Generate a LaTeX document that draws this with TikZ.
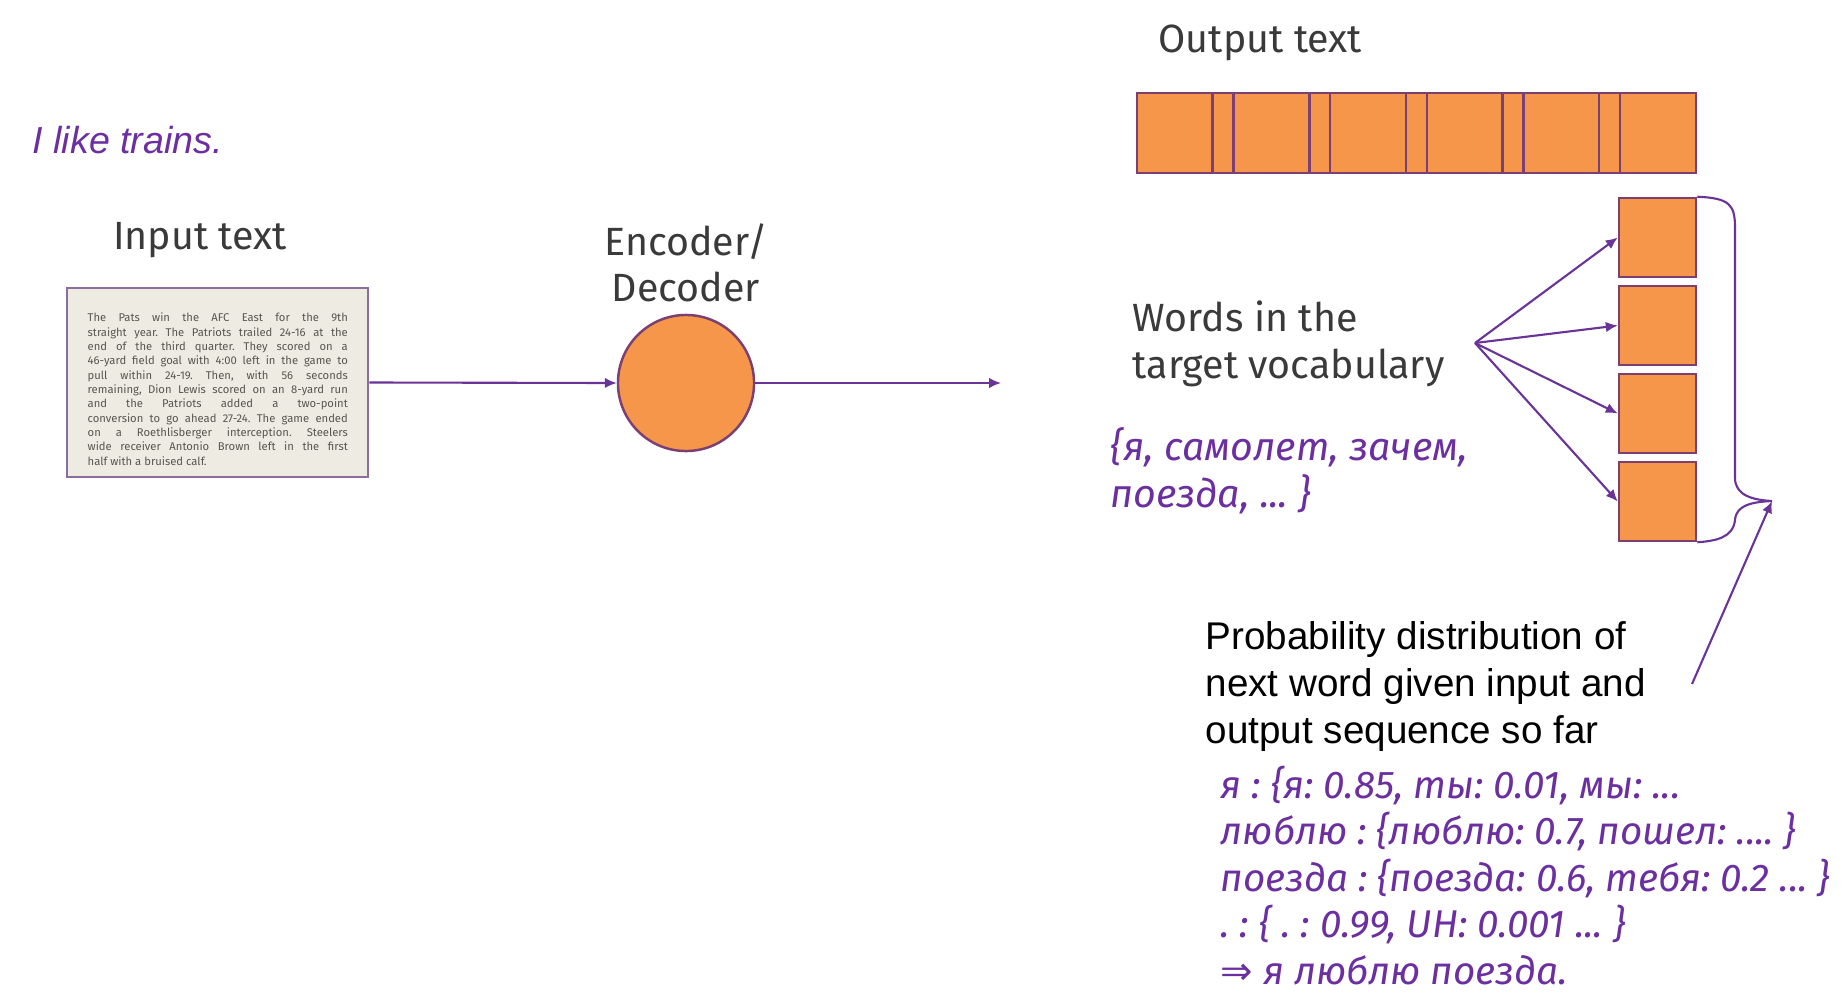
\documentclass[tikz,border=0pt]{standalone}
\usepackage{fontspec}
\setmainfont{Fira Sans}
\newfontfamily\arialfont{Liberation Sans}
\newfontfamily\symfont{DejaVu Sans}
\usetikzlibrary{arrows.meta}
\definecolor{boxorange}{HTML}{F6964A}
\definecolor{boxline}{HTML}{7B3F72}
\definecolor{arrowpurple}{HTML}{6A3497}
\definecolor{textpurple}{HTML}{6B2FA0}
\definecolor{labelgray}{HTML}{3A3A3A}
\definecolor{paper}{HTML}{EEEBE3}
\definecolor{paperline}{HTML}{8C6D9F}
\definecolor{papertext}{HTML}{5A5550}
\frenchspacing
% one justified line of the input article
\newcommand{\jline}[1]{\makebox[2.6cm][s]{#1}\\}
\begin{document}
\begin{tikzpicture}[x=0.01cm, y=-0.01cm,
  label/.style={inner sep=0, text=labelgray, font=\fontsize{11.2pt}{13.1pt}\selectfont},
  ru/.style={inner sep=0, text=textpurple, font=\fontsize{11.2pt}{13.2pt}\selectfont\itshape},
  cell/.style={draw=boxline, line width=0.7pt, fill=boxorange, inner sep=0, minimum height=0.8cm},
  vocbox/.style={cell, minimum width=0.77cm, minimum height=0.79cm},
  flow/.style={arrowpurple, line width=0.6pt, -{Latex[length=3.4pt,width=3pt]}}]
  \fill[white] (0,0) rectangle (1846,1000);
  \useasboundingbox (0,0) rectangle (1846,1000);
  % source sentence
  \node[inner sep=0, anchor=base west, text=textpurple, font=\arialfont\fontsize{10.7pt}{12pt}\selectfont\itshape] (src) at (32,153) {I like trains.};
  % input (multi-line nodes sit on their last baseline)
  \node[label, anchor=base] (inlabel) at (200,249) {Input text};
  \node[draw=paperline, line width=0.7pt, fill=paper, minimum width=3.01cm, minimum height=1.89cm] (inbox) at (217.5,382.5) {};
  \node[inner sep=0, anchor=base west, align=left, text=papertext, font=\fontsize{3.2pt}{4.07pt}\selectfont] (intext) at (87,465) {%
    \jline{The Pats win the AFC East for the 9th}
    \jline{straight year. The Patriots trailed 24-16 at the}
    \jline{end of the third quarter. They scored on a}
    \jline{46-yard field goal with 4:00 left in the game to}
    \jline{pull within 24-19. Then, with 56 seconds}
    \jline{remaining, Dion Lewis scored on an 8-yard run}
    \jline{and the Patriots added a two-point}
    \jline{conversion to go ahead 27-24. The game ended}
    \jline{on a Roethlisberger interception. Steelers}
    \jline{wide receiver Antonio Brown left in the first}
    half with a bruised calf.};
  % encoder / decoder
  \node[label, anchor=base, align=center, font=\fontsize{11.2pt}{12.8pt}\selectfont] (enclabel) at (686,301) {Encoder/\\Decoder};
  \node[circle, draw=boxline, line width=0.7pt, fill=boxorange, minimum size=1.36cm, inner sep=0] (encdec) at (686,383) {};
  \coordinate (encout) at (1001,383);
  \draw[flow] (inbox.east) -- (encdec.west);
  \draw[flow] (encdec.east) -- (encout);
  % output sequence
  \node[label, anchor=base west] (outlabel) at (1158,52) {Output text};
  \foreach \i in {0,...,5}
    \node[cell, minimum width=0.757cm] (word\i) at (1174.85+96.6*\i,133) {};
  \foreach \i in {0,...,4}
    \node[cell, minimum width=0.209cm] (gap\i) at (1223.15+96.6*\i,133) {};
  % target vocabulary
  \node[label, anchor=base west, align=left] (voclabel) at (1132,378) {Words in the\\target vocabulary};
  \node[ru, anchor=base west, align=left] (vocset) at (1110,507) {\{я, самолет, зачем,\\поезда, ... \}};
  \foreach \i/\y in {1/237.5, 2/325.5, 3/413.5, 4/501.5}
    \node[vocbox] (voc\i) at (1657.5,\y) {};
  \coordinate (fan) at (1475,343);
  \foreach \i in {1,...,4}
    \draw[flow] (fan) -- (voc\i.west);
  % brace over the vocabulary
  \coordinate (bracetip) at (1772,501);
  \draw[arrowpurple, line width=0.6pt] (voc1.north east) .. controls (1730,198) and (1735,205) .. (1735,228)
    -- (1735,478) .. controls (1735,495) and (1752,500) .. (bracetip)
    .. controls (1752,502) and (1736,505) .. (1735,520) .. controls (1733,538) and (1715,541) .. (voc4.south east);
  % probability distribution
  \node[inner sep=0, anchor=base west, align=left, font=\arialfont\fontsize{10.98pt}{13.29pt}\selectfont] (problabel) at (1205,743) {Probability distribution of\\next word given input and\\output sequence so far};
  \coordinate (probfoot) at (1692,684);
  \draw[flow] (probfoot) -- (bracetip);
  \node[ru, anchor=base west, align=left, font=\fontsize{11pt}{13.2pt}\selectfont\itshape] (steps) at (1220,984) {я : \{я: 0.85, ты: 0.01, мы: ...\\
    люблю : \{люблю: 0.7, пошел: .... \}\\
    поезда : \{поезда: 0.6, тебя: 0.2 ... \}\\
    . : \{ . : 0.99, UH: 0.001 ... \}\\
    {\symfont\upshape ⇒} я люблю поезда.};
\end{tikzpicture}
\end{document}
